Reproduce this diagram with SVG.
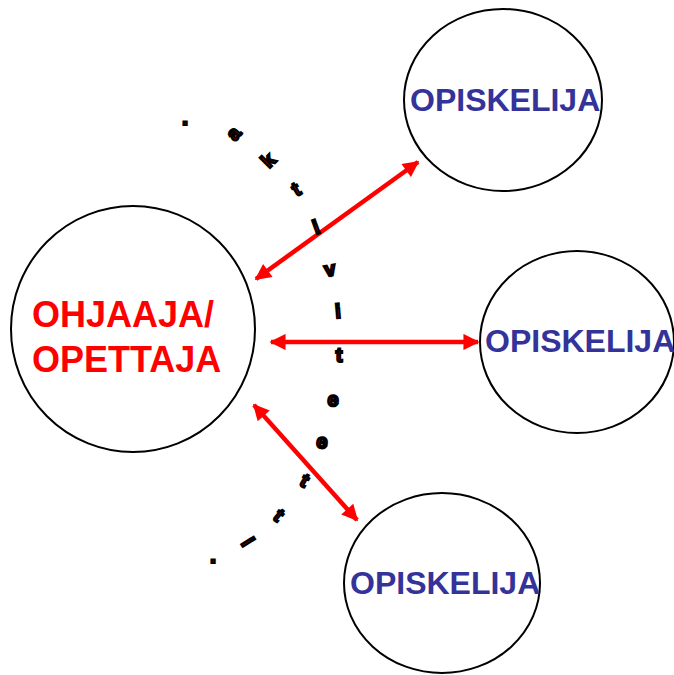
<svg xmlns="http://www.w3.org/2000/svg" width="674" height="675" viewBox="0 0 674 675">
<style>
.node{fill:#fff;stroke:#000;stroke-width:2}
.lead{font-family:"Liberation Sans",Arial,sans-serif;font-weight:bold;font-size:36px;fill:#ff0000}
.stud{font-family:"Liberation Sans",Arial,sans-serif;font-weight:bold;font-size:32px;fill:#333399}
.conn{stroke:#ff0000;stroke-width:4.5;fill:none;marker-start:url(#ah);marker-end:url(#ah)}
.arc text{font-family:"Liberation Sans",Arial,sans-serif;font-weight:bold;font-size:20px;fill:#cc0000;stroke:#000;stroke-width:2.2;text-anchor:middle}
</style>
<defs>
<marker id="ah" viewBox="0 0 10 10" refX="9" refY="5" markerWidth="4.4" markerHeight="3.6" orient="auto-start-reverse" markerUnits="strokeWidth">
<path d="M0,0 L10,5 L0,10 Z" fill="#ff0000"/>
</marker>
</defs>
<rect width="674" height="675" fill="#fff"/>
<g id="ohjaaja">
<ellipse class="node" cx="133" cy="329" rx="122" ry="123"/>
<text class="lead" x="32" y="327">OHJAAJA/</text>
<text class="lead" x="32" y="372">OPETTAJA</text>
</g>
<g id="opiskelija1">
<ellipse class="node" cx="503" cy="100" rx="99" ry="91"/>
<text class="stud" x="410" y="111">OPISKELIJA</text>
</g>
<g id="opiskelija2">
<ellipse class="node" cx="577" cy="342" rx="97" ry="91"/>
<text class="stud" x="485" y="352">OPISKELIJA</text>
</g>
<g id="opiskelija3">
<ellipse class="node" cx="442" cy="583" rx="98" ry="90"/>
<text class="stud" x="350" y="594">OPISKELIJA</text>
</g>
<g id="connectors">
<line class="conn" x1="256" y1="279" x2="418" y2="162"/>
<line class="conn" x1="271" y1="342" x2="478" y2="342"/>
<line class="conn" x1="254" y1="405" x2="357" y2="520"/>
</g>
<g id="aktiviteetit" class="arc">
<text transform="translate(185,120)" y="5" style="font-size:22px">.</text>
<text transform="translate(234,134) rotate(-50)" y="6">a</text>
<text transform="translate(268,160) rotate(-45)" y="7">k</text>
<text transform="translate(296,189) rotate(-30)" y="7">t</text>
<text transform="translate(316,227) rotate(-20)" y="7">i</text>
<text transform="translate(330,270) rotate(-10)" y="6">v</text>
<text transform="translate(338,311) rotate(-5)" y="7">i</text>
<text transform="translate(339,355)" y="7">t</text>
<text transform="translate(333,400) rotate(5)" y="6">e</text>
<text transform="translate(322,442) rotate(10)" y="6">e</text>
<text transform="translate(305,480) rotate(30)" y="7">t</text>
<text transform="translate(279,515) rotate(40)" y="7">t</text>
<text transform="translate(248,542) rotate(58)" y="7">i</text>
<text transform="translate(213,558)" y="5" style="font-size:22px">.</text>
</g>
</svg>
